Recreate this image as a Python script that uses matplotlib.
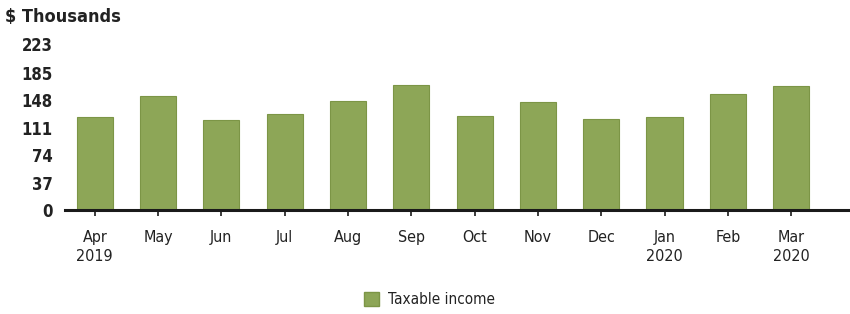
import matplotlib.pyplot as plt
from matplotlib.patches import Patch

months = ["Apr\n2019", "May", "Jun", "Jul", "Aug", "Sep", "Oct", "Nov", "Dec", "Jan\n2020", "Feb", "Mar\n2020"]
taxable_income = [126, 153, 122, 130, 147, 168, 127, 146, 123, 125, 156, 167]
yticks = [0, 37, 74, 111, 148, 185, 223]

bar_color = "#8da657"
edge_color = "#7c9546"
text_color = "#222222"

plt.rcParams['font.family'] = ['DejaVu Sans']
plt.rcParams['font.stretch'] = 'condensed'

fig = plt.figure(figsize=(8.5, 3.14), dpi=100)
ax = fig.add_axes([0.0765, 0.33, 0.9235, 0.529])

x = list(range(len(months)))
ax.bar(x, taxable_income, width=0.57, color=bar_color, edgecolor=edge_color, linewidth=0.8, zorder=2)

ax.set_xlim(-0.47, 11.93)
ax.set_ylim(0, 223)
ax.set_yticks(yticks)
ax.set_yticklabels([str(v) for v in yticks], fontsize=12, fontweight='bold', color=text_color)
ax.set_xticks(x)
ax.set_xticklabels(months, fontsize=11.5, color=text_color, linespacing=1.35)

for s in ["top", "right", "left"]:
    ax.spines[s].set_visible(False)
ax.spines["bottom"].set_linewidth(2.2)
ax.spines["bottom"].set_color("#1a1a1a")
ax.tick_params(axis='y', length=0, pad=9)
ax.tick_params(axis='x', length=4, width=1.2, direction='out', pad=10, color="#1a1a1a")

fig.text(0.006, 0.945, "$ Thousands", fontsize=13, fontweight='bold', color=text_color, va='center', ha='left')

handles = [Patch(facecolor=bar_color, edgecolor=edge_color, label="Taxable income")]
fig.legend(handles=handles, loc='center', bbox_to_anchor=(0.505, 0.045), frameon=False,
           fontsize=11, handlelength=1.0, handleheight=1.0, handletextpad=0.6, labelcolor=text_color)

fig.savefig("out.png", dpi=100)
